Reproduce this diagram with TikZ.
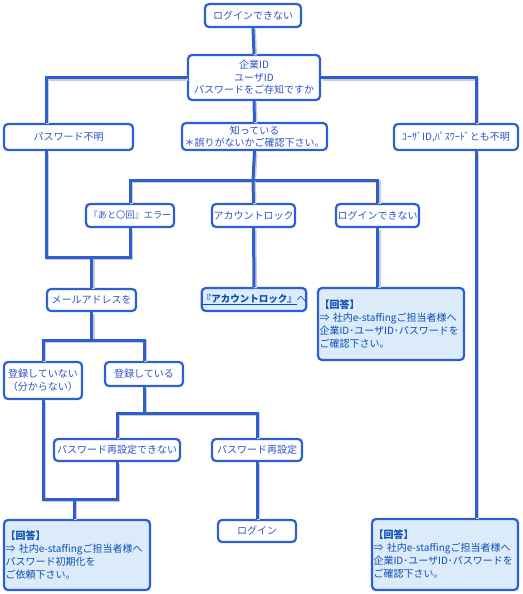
\documentclass[tikz,border=0pt]{standalone}
\usepackage{fontspec}
\setmainfont{Noto Sans CJK JP}
\usetikzlibrary{calc}
\definecolor{lineblue}{HTML}{2E5FD0}
\definecolor{txtblue}{HTML}{2F52C8}
\definecolor{anstxt}{HTML}{0A4EB4}
\definecolor{ansfill}{HTML}{DCEBFA}
\begin{document}
\begin{tikzpicture}[x=1pt,y=-1pt,
  box/.style={draw=lineblue, line width=2.2pt, rounded corners=4pt, fill=white,
    text=txtblue, font=\fontsize{10}{12.5}\selectfont, align=center, inner sep=0pt},
  ansbox/.style={box, fill=ansfill, text=anstxt, align=left, inner xsep=1.5pt,
    font=\fontsize{10}{13}\selectfont},
  conn/.style={draw=lineblue, line width=3pt,
    preaction={draw=black!20, line width=3pt, transform canvas={shift={(1.5pt,-1.5pt)}}}}
]
\useasboundingbox (0,0) rectangle (522,594);

% junction coordinates
\coordinate (k) at (253,180);
\coordinate (j) at (91.5,257);
\coordinate (m) at (91.5,340);
\coordinate (r) at (144,413);
\coordinate (b) at (74,499);

% nodes
\node[box, minimum width=96, minimum height=23] (top) at (253,15.5) {ログインできない};
\node[box, minimum width=132, minimum height=45] (q) at (254,77.5) {企業ID\\ユーザID\\パスワードをご存知ですか};
\node[box, minimum width=129, minimum height=26] (pwunk) at (68.5,137) {パスワード不明};
\node[box, minimum width=145, minimum height=27] (know) at (254.5,136.5) {知っている\\＊誤りがないかご確認下さい。};
\node[box, minimum width=124, minimum height=26] (both) at (456,137) {ﾕｰｻﾞID,ﾊﾟｽﾜｰﾄﾞとも不明};
\node[box, minimum width=88, minimum height=23, font=\fontsize{9.2}{12}\selectfont] (err) at (130,215.5) {『あと〇回』エラー};
\node[box, minimum width=83, minimum height=23] (lock) at (253.5,215.5) {アカウントロック};
\node[box, minimum width=83, minimum height=23] (cant) at (377.5,215.5) {ログインできない};
\node[box, minimum width=89, minimum height=22] (mail) at (91.5,300) {メールアドレスを};
\node[box, fill=ansfill, text=anstxt, minimum width=96, minimum height=23, font=\fontsize{9.5}{12}\selectfont] (lockto) at (254,299.5) {\textbf{\underline{『アカウントロック』}}へ};
\node[ansbox, minimum width=146, minimum height=72, text width=143] (ans1) at (391,324) {\textbf{【回答】}\\⇒ 社内e-staffingご担当者様へ\\\mbox{企業ID･ユーザID･パスワードを}\\ご確認下さい。};
\node[box, minimum width=78, minimum height=37] (notreg) at (43,380.5) {登録していない\\（分からない）};
\node[box, minimum width=78, minimum height=24] (reg) at (144,374) {登録している};
\node[box, minimum width=126, minimum height=22] (cannot) at (117,450) {パスワード再設定できない};
\node[box, minimum width=90, minimum height=22] (reset) at (257,450) {パスワード再設定};
\node[ansbox, minimum width=146, minimum height=70, text width=143] (ans2) at (77,555) {\textbf{【回答】}\\⇒ 社内e-staffingご担当者様へ\\パスワード初期化を\\ご依頼下さい。};
\node[box, minimum width=78, minimum height=22] (login) at (257,531) {ログイン};
\node[ansbox, minimum width=146, minimum height=71, text width=143] (ans3) at (445,554.5) {\textbf{【回答】}\\⇒ 社内e-staffingご担当者様へ\\\mbox{企業ID･ユーザID･パスワードを}\\ご確認下さい。};

% connectors
\draw[conn] (top.south) -- (q.north);
\draw[conn] (q.west) -| ($(pwunk.north)+(-22.5,0)$);
\draw[conn] (q.east) -| ($(both.north)+(20,0)$);
\draw[conn] (q.south) -- (know.north);
\draw[conn] (know.south) -- (k);
\draw[conn] (err.north) |- (k) -| (cant.north);
\draw[conn] (k) -- (lock.north);
\draw[conn] ($(pwunk.south)+(-22.5,0)$) |- (j) -| (err.south);
\draw[conn] (j) -- (mail.north);
\draw[conn] (lock.south) -- (lockto.north);
\draw[conn] (cant.south) -- (cant.south |- ans1.north);
\draw[conn] ($(both.south)+(20,0)$) -- ($(both.south |- ans3.north)+(20,0)$);
\draw[conn] (mail.south) -- (m);
\draw[conn] (notreg.north) |- (m) -| (reg.north);
\draw[conn] (reg.south) -- (r);
\draw[conn] (cannot.north) |- (r) -| (reset.north);
\draw[conn] (notreg.south) |- (b) -| (cannot.south);
\draw[conn] (b) -- (b |- ans2.north);
\draw[conn] (reset.south) -- (login.north);
\end{tikzpicture}
\end{document}
